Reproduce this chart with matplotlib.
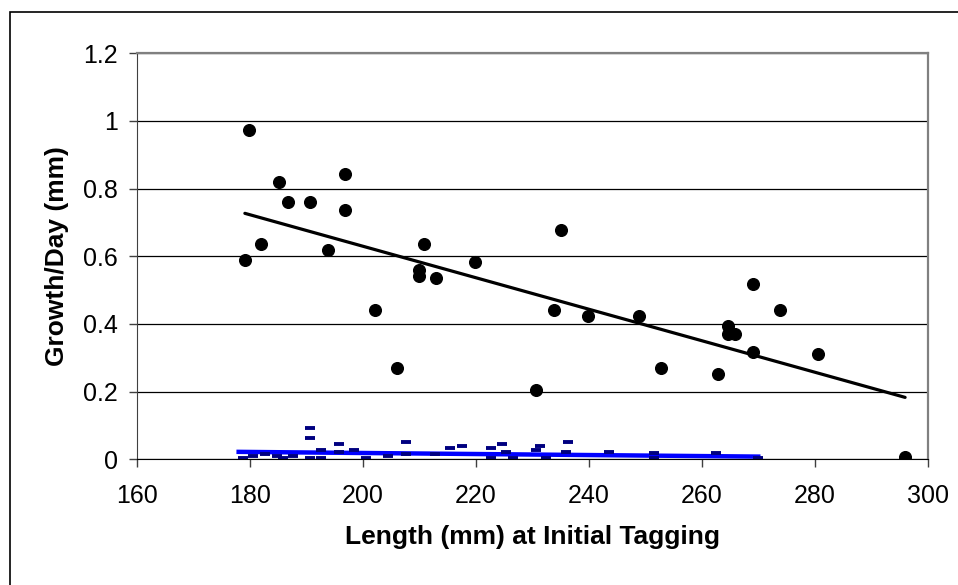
import numpy as np
import matplotlib
matplotlib.use("Agg")
from matplotlib import pyplot as plt
from matplotlib.patches import Rectangle

plt.rcParams['font.family'] = ['Liberation Sans', 'DejaVu Sans']

# growth per day vs length at tagging (black dots)
len_a = [179.8, 185.1, 196.8, 186.8, 190.7, 196.8, 181.9, 179.1, 193.9, 210.9,
         209.9, 209.9, 213.0, 202.1, 206.0, 219.8, 235.0, 233.9, 239.9, 248.8,
         230.7, 252.7, 269.0, 273.9, 264.7, 264.7, 265.8, 269.0, 262.9, 280.6,
         295.9]
growth_a = [0.972, 0.819, 0.843, 0.760, 0.760, 0.736, 0.636, 0.588, 0.618, 0.636,
            0.559, 0.541, 0.535, 0.440, 0.269, 0.582, 0.677, 0.440, 0.423, 0.423,
            0.204, 0.269, 0.517, 0.440, 0.393, 0.369, 0.369, 0.316, 0.251, 0.310,
            0.006]

# second series (navy dashes near zero)
len_b = [178.7, 180.5, 182.6, 184.7, 185.8, 187.6, 190.7, 190.7, 190.7, 192.5,
         192.5, 195.7, 195.7, 198.5, 200.6, 204.5, 207.7, 207.7, 212.7, 215.5,
         217.6, 222.6, 222.6, 224.7, 225.4, 226.5, 230.7, 231.4, 232.5, 236.4,
         236.0, 243.5, 251.6, 251.6, 262.6, 270.0]
growth_b = [0.003, 0.010, 0.016, 0.010, 0.003, 0.010, 0.092, 0.063, 0.003, 0.027,
            0.003, 0.045, 0.021, 0.027, 0.003, 0.010, 0.050, 0.016, 0.016, 0.033,
            0.039, 0.033, 0.003, 0.045, 0.022, 0.003, 0.027, 0.039, 0.003, 0.050,
            0.022, 0.021, 0.018, 0.003, 0.018, 0.003]

# trendline ends
trend_a_x = [179.1, 296.0]
trend_a_y = [0.727, 0.183]
trend_b_x = [178.0, 270.0]
trend_b_y = [0.022, 0.008]

x_ticks = [160, 180, 200, 220, 240, 260, 280, 300]
y_ticks = [0, 0.2, 0.4, 0.6, 0.8, 1.0, 1.2]
y_labels = ["0", "0.2", "0.4", "0.6", "0.8", "1", "1.2"]

fig = plt.figure(figsize=(9.58, 5.85), dpi=100)
ax = fig.add_axes([137/958, 1 - 459.3/585, (927.7 - 137)/958, (459.3 - 53.3)/585])

# outer chart border (only top/left visible, rest cropped off)
fig.add_artist(Rectangle((10/958, -0.1), 1.2, 1 - 12/585 + 0.1, transform=fig.transFigure,
                         fill=False, edgecolor='black', linewidth=1.2, clip_on=False))

ax.plot(trend_a_x, trend_a_y, color='black', lw=2.3, solid_capstyle='round', zorder=3)
ax.plot(trend_b_x, trend_b_y, color='#0000FF', lw=3.2, zorder=2)

ax.plot(len_b, growth_b, linestyle='none', marker='_', ms=7, mew=2.8,
        color='#000080', zorder=2.5)
ax.plot(len_a, growth_a, linestyle='none', marker='o', ms=8.4,
        color='black', zorder=4)

ax.set_xlim(160, 300)
ax.set_ylim(0, 1.2)
ax.set_xticks(x_ticks)
ax.set_yticks(y_ticks)
ax.set_yticklabels(y_labels)
ax.yaxis.grid(True, color='black', linewidth=0.9)
ax.set_axisbelow(True)

ax.tick_params(axis='both', direction='out', length=6, width=1, color='#404040',
               labelsize=18)
ax.tick_params(axis='x', pad=12)
ax.tick_params(axis='y', pad=8)

for s in ['top', 'right']:
    ax.spines[s].set_color('#808080')
    ax.spines[s].set_linewidth(1.6)
ax.spines['left'].set_color('#404040')
ax.spines['bottom'].set_color('black')

ax.set_xlabel("Length (mm) at Initial Tagging", fontsize=19, fontweight='bold', labelpad=12)
ax.set_ylabel("Growth/Day (mm)", fontsize=19, fontweight='bold', labelpad=10)

fig.savefig("out.png", dpi=100)
